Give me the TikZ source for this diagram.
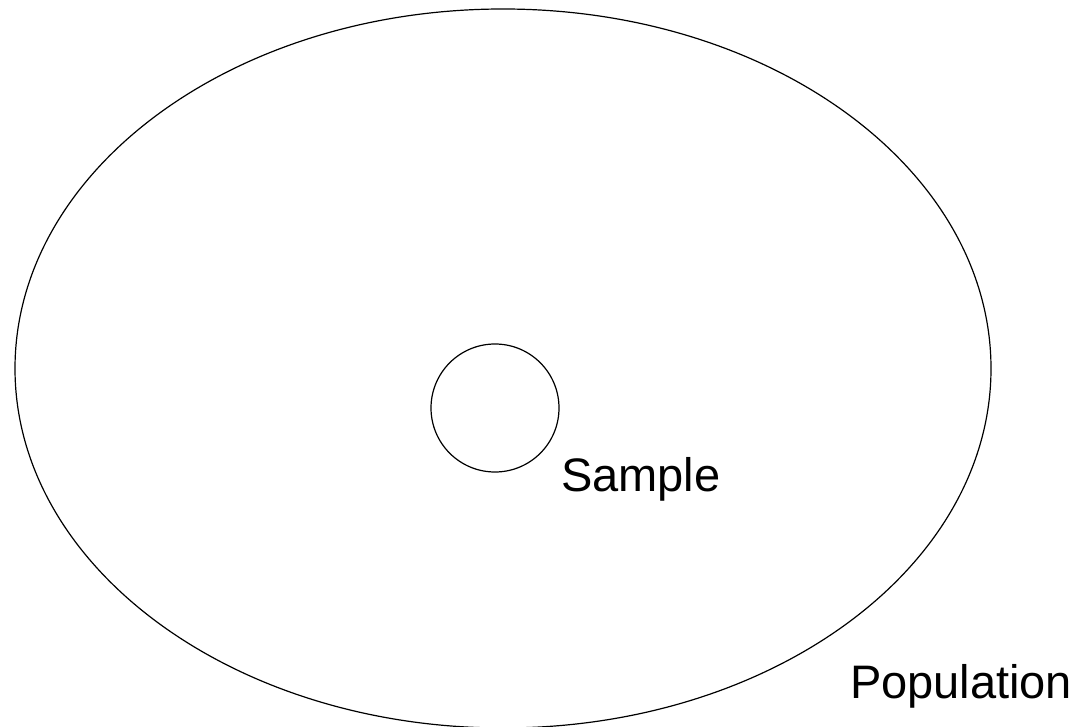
\documentclass[tikz,border=0pt]{standalone}
\usepackage{fontspec}
\setmainfont{Liberation Sans}
\usetikzlibrary{shapes.geometric}
\begin{document}
\begin{tikzpicture}[x=1pt,y=-1pt,
  outline/.style={draw=black,line width=1.2pt,inner sep=0pt,outer sep=0pt},
  label/.style={inner sep=0pt,outer sep=0pt,font=\fontsize{47}{56}\selectfont,anchor=base west}]
\useasboundingbox (0,0) rectangle (1076,727);
\node[outline,ellipse,minimum width=976pt,minimum height=719pt] (pop) at (503,368.5) {};
\node[outline,circle,minimum size=128pt] (samp) at (495,408) {};
\node[label] (samptext) at (561,491) {Sample};
\node[label] (poptext) at (850,698) {Population};
\end{tikzpicture}
\end{document}
